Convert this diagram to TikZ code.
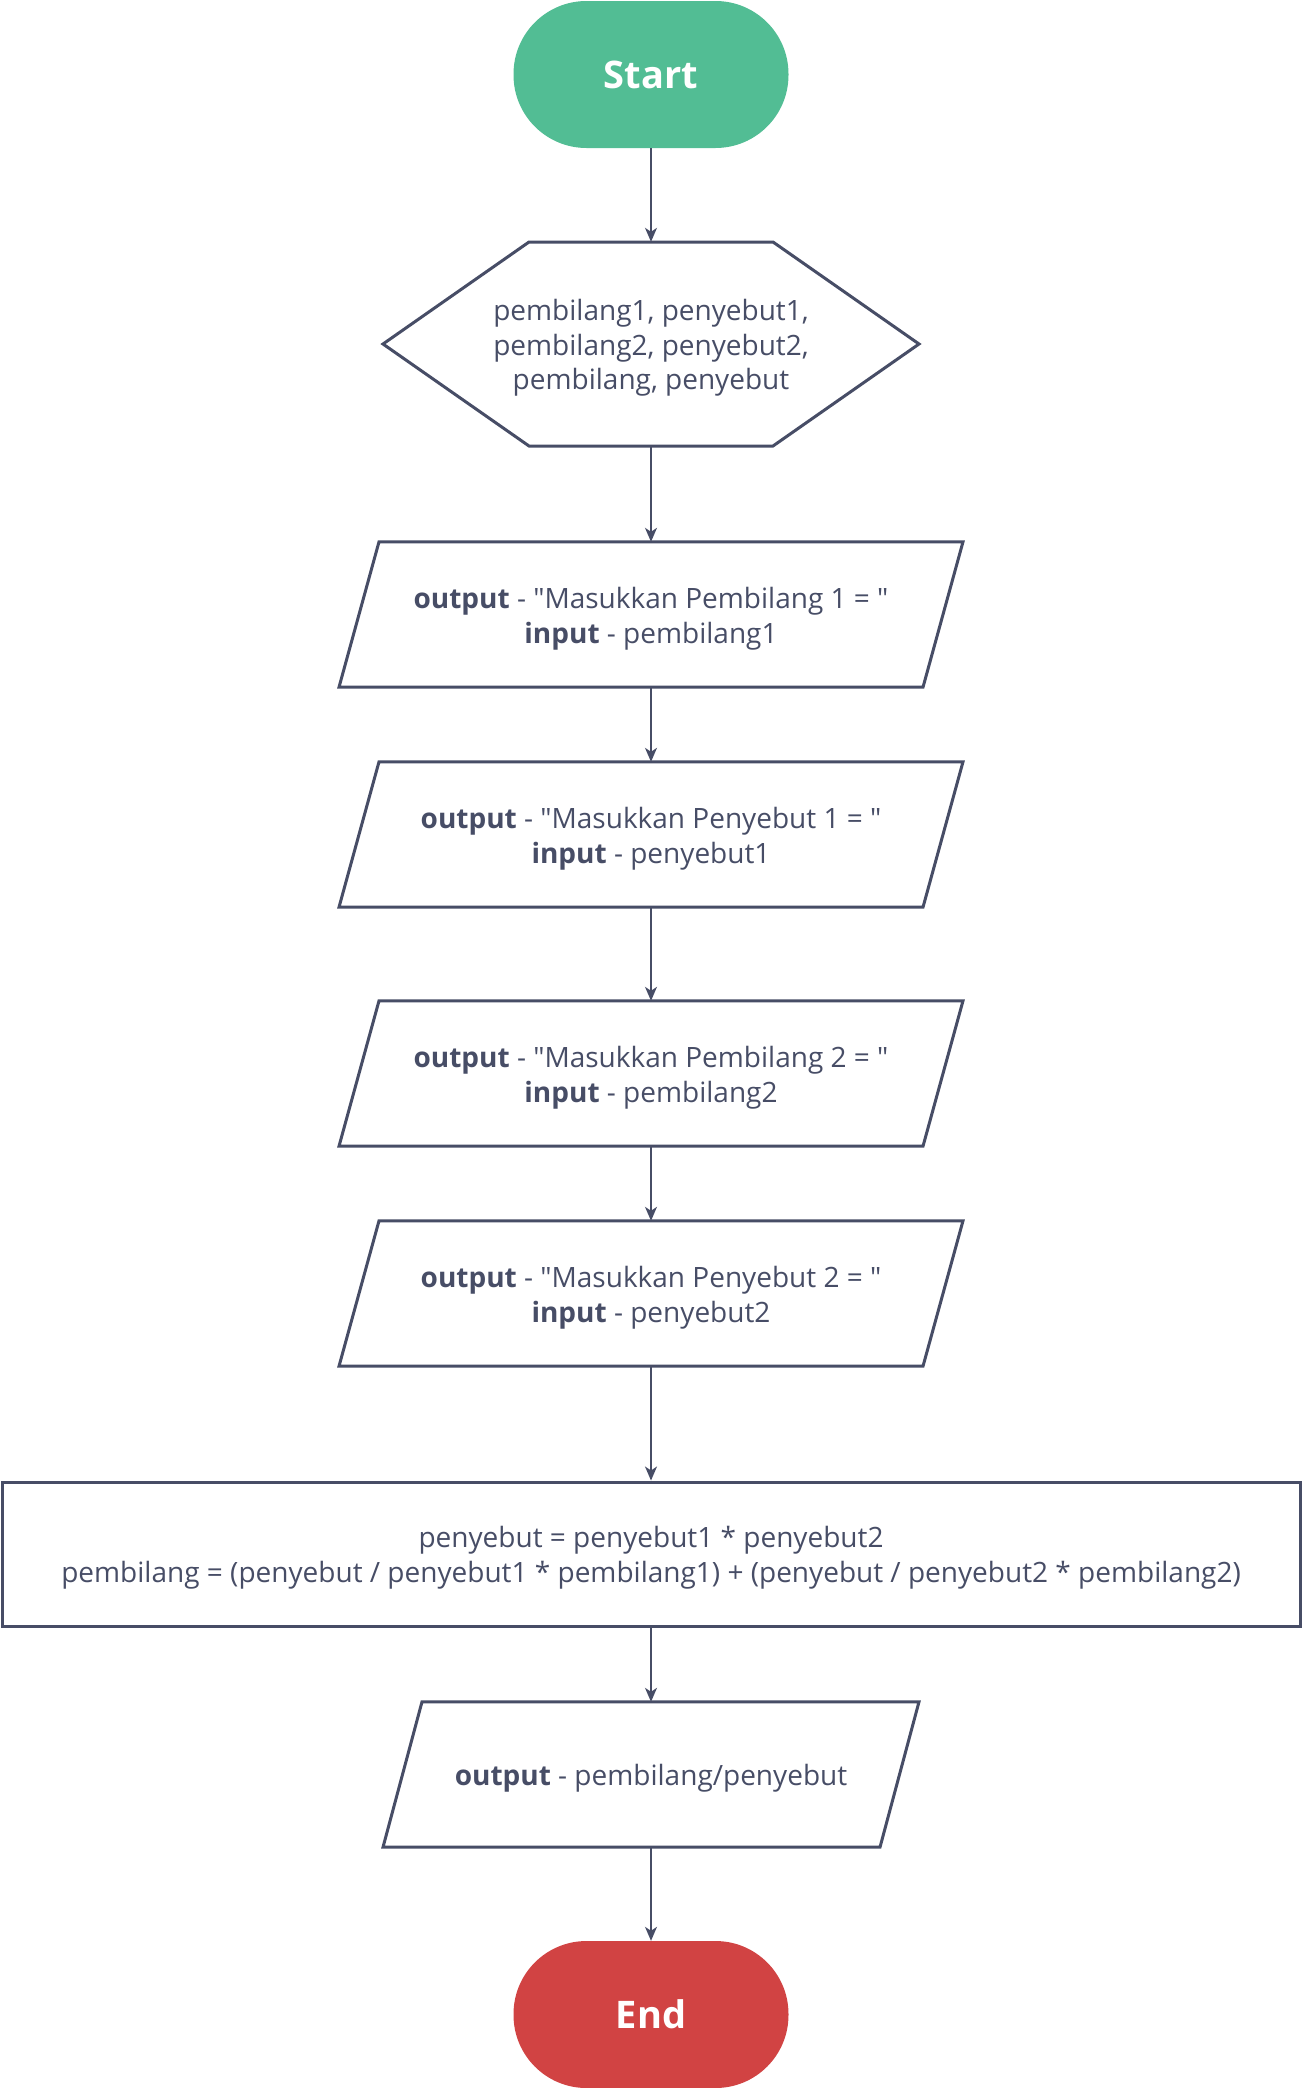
\documentclass[tikz,border=0pt]{standalone}
\usepackage{fontspec}
\setmainfont{Open Sans}[Ligatures=TeXOff]
\usetikzlibrary{arrows.meta,calc}
\definecolor{ink}{HTML}{474D66}
\definecolor{startgreen}{HTML}{52BD94}
\definecolor{endred}{HTML}{D14343}
\tikzset{
  terminal/.style={rounded corners=73pt, minimum width=275pt, minimum height=147pt, inner sep=0pt,
    font=\fontsize{38}{44}\selectfont\bfseries, text=white},
  txt/.style={font=\fontsize{28}{34.6}\selectfont, text=ink, align=center, inner sep=0pt},
  frame/.style={inner sep=0pt},
  shapeline/.style={draw=ink, line width=3pt, line join=miter},
  conn/.style={draw=ink, line width=1.5pt, -{Stealth[length=14pt,width=12pt,inset=4pt]}},
}
\newcommand\parabox[6]{% name, cy, halfwidth, slant, height, text
  \node[frame, minimum width=2*#3, minimum height=#5] (#1) at (651,#2) {};
  \node[txt] (#1-text) at ($(#1.center)+(0,4)$) {#6};
  \draw[shapeline] ($(#1.north)+({-#3+#4},0)$) -- ($(#1.north)+({#3+#4},0)$)
    -- ($(#1.south)+({#3-#4},0)$) -- ($(#1.south)+({-#3-#4},0)$) -- cycle;
}
\begin{document}
\begin{tikzpicture}[x=1pt,y=-1pt]
\useasboundingbox (0,0) rectangle (1306,2088);
\node[terminal, fill=startgreen] (start) at (651,74.5) {Start};

\node[frame, minimum width=536pt, minimum height=204pt] (decl) at (651,344) {};
\node[txt] (decl-text) at ($(decl.center)+(0,4)$)
  {pembilang1, penyebut1,\\pembilang2, penyebut2,\\pembilang, penyebut};
\draw[shapeline] (383,344) -- (529,242) -- (773,242) -- (919,344) -- (773,446) -- (529,446) -- cycle;

\parabox{in1}{614.5}{292}{20}{145pt}{\textbf{output} - "Masukkan Pembilang 1 = "\\\textbf{input} - pembilang1}
\parabox{in2}{834.5}{292}{20}{145pt}{\textbf{output} - "Masukkan Penyebut 1 = "\\\textbf{input} - penyebut1}
\parabox{in3}{1073.5}{292}{20}{145pt}{\textbf{output} - "Masukkan Pembilang 2 = "\\\textbf{input} - pembilang2}
\parabox{in4}{1293.5}{292}{20}{145pt}{\textbf{output} - "Masukkan Penyebut 2 = "\\\textbf{input} - penyebut2}

\node[frame, shapeline, minimum width=1298pt, minimum height=144pt] (calc) at (651,1554) {};
\node[txt] (calc-text) at ($(calc.center)+(0,4)$)
  {penyebut = penyebut1 * penyebut2\\pembilang = (penyebut / penyebut1 * pembilang1) + (penyebut / penyebut2 * pembilang2)};

\parabox{out}{1774.5}{248.5}{19.5}{145pt}{\textbf{output} - pembilang/penyebut}

\node[terminal, fill=endred] (end) at (651,2014.5) {End};

\draw[conn] (start) -- (decl);
\draw[conn] (decl) -- (in1);
\draw[conn] (in1) -- (in2);
\draw[conn] (in2) -- (in3);
\draw[conn] (in3) -- (in4);
\draw[conn] (in4) -- (calc);
\draw[conn] (calc) -- (out);
\draw[conn] (out) -- (end);
\end{tikzpicture}
\end{document}
